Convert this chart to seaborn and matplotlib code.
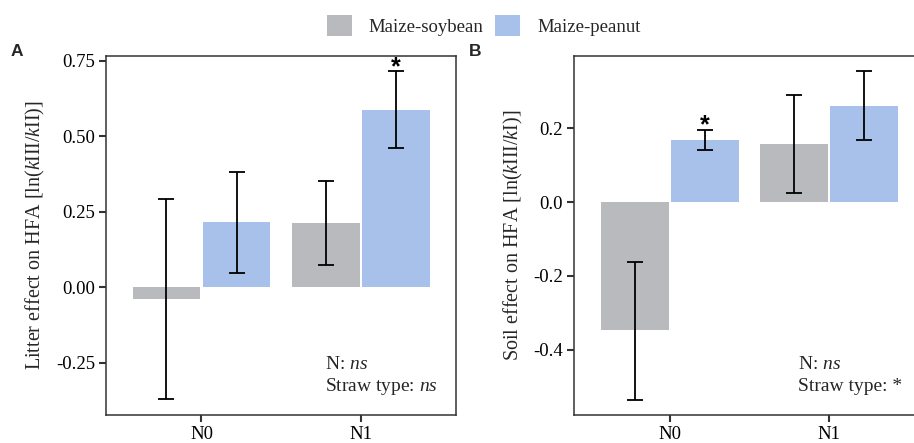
import matplotlib
matplotlib.use("Agg")
import matplotlib.pyplot as plt
import seaborn as sns
import pandas as pd
import numpy as np
from matplotlib.patches import Patch

# ---- data ----
n_levels = ["N0", "N1"]
straw_types = ["Maize-soybean", "Maize-peanut"]

litter_mean = {"Maize-soybean": [-0.038, 0.213], "Maize-peanut": [0.215, 0.588]}
litter_lo = {"Maize-soybean": [-0.370, 0.073], "Maize-peanut": [0.046, 0.460]}
litter_hi = {"Maize-soybean": [0.292, 0.352], "Maize-peanut": [0.380, 0.716]}

soil_mean = {"Maize-soybean": [-0.347, 0.157], "Maize-peanut": [0.167, 0.261]}
soil_lo = {"Maize-soybean": [-0.535, 0.025], "Maize-peanut": [0.140, 0.168]}
soil_hi = {"Maize-soybean": [-0.161, 0.289], "Maize-peanut": [0.195, 0.354]}

litter_yticks = [-0.25, 0.00, 0.25, 0.50, 0.75]
litter_ytick_labels = ["-0.25", "0.00", "0.25", "0.50", "0.75"]
soil_yticks = [-0.4, -0.2, 0.0, 0.2]
soil_ytick_labels = ["-0.4", "-0.2", "0.0", "0.2"]

colors = {"Maize-soybean": "#b8babe", "Maize-peanut": "#a8c1eb"}

# ---- style ----
sns.set_theme(style="white")
plt.rcParams["font.family"] = ["Liberation Serif", "DejaVu Serif"]
plt.rcParams["axes.unicode_minus"] = False
plt.rcParams["mathtext.fontset"] = "custom"
plt.rcParams["mathtext.rm"] = "Liberation Serif"
plt.rcParams["mathtext.it"] = "Liberation Serif:italic"

fig = plt.figure(figsize=(9.14, 4.43), dpi=100)
axA = fig.add_axes([0.116, 0.0632, 0.383, 0.8104])
axB = fig.add_axes([0.6283, 0.0632, 0.383, 0.8104])


def make_df(mean, lo, hi):
    rows = []
    for s in straw_types:
        for i, n in enumerate(n_levels):
            rows.append({"N": n, "Straw": s, "mean": mean[s][i], "lo": lo[s][i], "hi": hi[s][i]})
    return pd.DataFrame(rows)


def draw(ax, df, ylim, yticks, ylabels, ylabel, star_idx, star_y, ann_x, ann_lines, panel, panel_x):
    sns.barplot(data=df, x="N", y="mean", hue="Straw", order=n_levels, hue_order=straw_types,
                palette=colors, saturation=1, width=0.88, gap=0.03, errorbar=None, linewidth=0,
                legend=False, ax=ax)
    for cont, s in zip(ax.containers, straw_types):
        sub = df[df.Straw == s].set_index("N").loc[n_levels]
        xs = [b.get_x() + b.get_width() / 2 for b in cont]
        ax.errorbar(xs, sub["mean"].values,
                    yerr=[sub["mean"].values - sub["lo"].values, sub["hi"].values - sub["mean"].values],
                    fmt="none", ecolor="black", elinewidth=1.3, capsize=5.5, capthick=1.3, zorder=5)
        if s == star_idx[0]:
            x_star = xs[star_idx[1]]
    ax.text(x_star, star_y, "*", ha="center", va="center", fontsize=18, fontweight="bold",
            family="Liberation Sans", color="black")
    ax.set_xlim(-0.6, 1.6)
    ax.set_ylim(*ylim)
    ax.set_yticks(yticks)
    ax.set_yticklabels(ylabels)
    ax.set_xlabel("")
    ax.set_ylabel(ylabel, fontsize=14.5, labelpad=6)
    ax.tick_params(axis="both", labelsize=13.5, length=5, width=1.5, color="#333333",
                   labelcolor="black", direction="out", left=True, bottom=True, pad=3)
    for sp in ax.spines.values():
        sp.set_visible(True)
        sp.set_color("#333333")
        sp.set_linewidth(1.1)
    ax.text(ann_x, 0.142, ann_lines[0], transform=ax.transAxes, fontsize=14, va="center", ha="left")
    ax.text(ann_x, 0.078, ann_lines[1], transform=ax.transAxes, fontsize=14, va="center", ha="left")
    fig.text(panel_x, 0.90, panel, fontsize=12.5, fontweight="bold", family="Liberation Sans",
             ha="left", va="top")


dfA = make_df(litter_mean, litter_lo, litter_hi)
dfB = make_df(soil_mean, soil_lo, soil_hi)

draw(axA, dfA, (-0.424, 0.766), litter_yticks, litter_ytick_labels,
     r"Litter effect on HFA [ln($\mathit{k}$III/$\mathit{k}$II)]",
     ("Maize-peanut", 1), 0.730, 0.626,
     [r"N: $\mathit{ns}$", r"Straw type: $\mathit{ns}$"], "A", 0.012)
draw(axB, dfB, (-0.576, 0.395), soil_yticks, soil_ytick_labels,
     r"Soil effect on HFA [ln($\mathit{k}$III/$\mathit{k}$I)]",
     ("Maize-peanut", 0), 0.207, 0.638,
     [r"N: $\mathit{ns}$", "Straw type: *"], "B", 0.513)

handles = [Patch(facecolor=colors[s], edgecolor="none", label=s) for s in straw_types]
fig.legend(handles=handles, loc="center", bbox_to_anchor=(0.529, 0.942), ncol=2, frameon=False,
           fontsize=13.5, handlelength=1.35, handleheight=1.35, handletextpad=0.9, columnspacing=0.6)

fig.savefig("out.png", dpi=100)
